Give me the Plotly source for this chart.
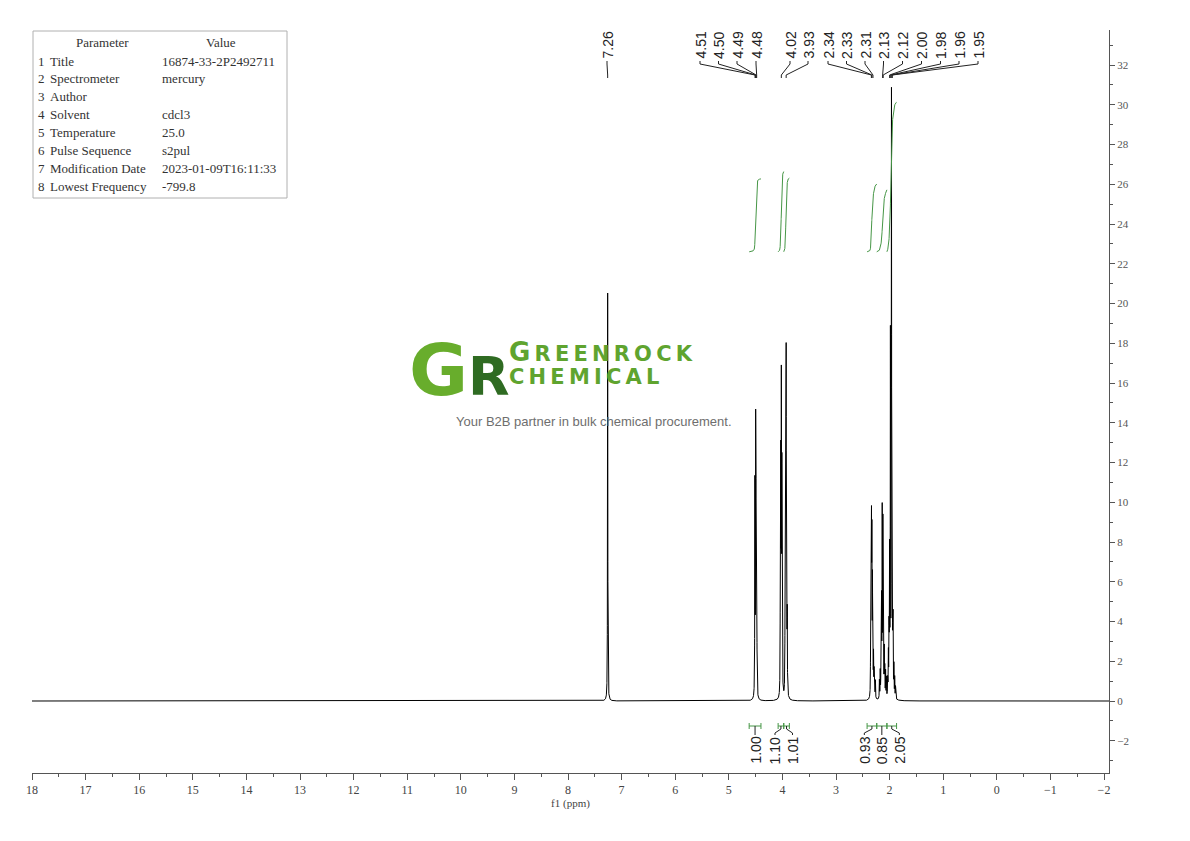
import numpy as np
import plotly.graph_objects as go

# ---------------- data ----------------
peak_ppm = [7.260,
            4.513, 4.499, 4.492, 4.478,
            4.040, 4.030, 4.020, 4.010, 4.000,
            3.950, 3.940, 3.930, 3.920, 3.910,
            2.355, 2.345, 2.338, 2.330, 2.320, 2.312, 2.300, 2.290,
            2.280, 2.265, 2.190, 2.175,
            2.160, 2.150, 2.138, 2.125, 2.115, 2.100, 2.090,
            2.075, 2.060, 2.035, 2.022,
            2.010, 2.000, 1.985, 1.965, 1.950, 1.935, 1.920, 1.905, 1.890]
peak_height = [20.6,
               10.6, 12.6, 9.7, 7.5,
               4.6, 11.2, 14.9, 10.6, 4.6,
               5.1, 12.3, 16.2, 7.5, 3.7,
               2.1, 5.5, 7.8, 7.4, 5.2, 3.5, 2.0, 1.3,
               1.2, 0.9, 0.9, 1.3,
               2.4, 4.6, 9.1, 8.4, 4.6, 2.3, 1.4,
               1.3, 1.0, 1.3, 2.0,
               4.0, 6.8, 17.8, 30.0, 9.2, 3.8, 1.5, 1.0, 0.6]
line_fwhm = 0.006

peak_labels = [7.26, 4.51, 4.50, 4.49, 4.48, 4.02, 3.93,
               2.34, 2.33, 2.31, 2.13, 2.12, 2.00, 1.98, 1.96, 1.95]

integ_from = [4.62, 4.08, 3.975, 2.42, 2.24, 2.05]
integ_to = [4.40, 3.975, 3.87, 2.24, 2.05, 1.87]
integ_value = [1.00, 1.10, 1.01, 0.93, 0.85, 2.05]

param_names = ["Title", "Spectrometer", "Author", "Solvent", "Temperature",
               "Pulse Sequence", "Modification Date", "Lowest Frequency"]
param_values = ["16874-33-2P2492711", "mercury", "", "cdcl3", "25.0",
                "s2pul", "2023-01-09T16:11:33", "-799.8"]

x_tick_vals = list(range(18, -3, -1))
y_tick_vals = list(range(-2, 33, 2))

# ---------------- geometry / layout constants ----------------
W, H = 1190, 841
L, R, T, B = 32, 81, 30, 68
PW, PH = W - L - R, H - T - B
PX_PER_PPM = 53.6
X_RANGE = [18, 18 - PW / PX_PER_PPM]
PX_PER_UNIT = 19.875
ZERO_PX = 701
Y_RANGE = [-(T + PH - ZERO_PX) / PX_PER_UNIT, (ZERO_PX - T) / PX_PER_UNIT]
# horizontal slots (page pixels) of the rotated peak-label texts
LABEL_SLOTS = [607, 700, 718.5, 737, 756, 790, 808, 828, 846.5, 865,
               883.5, 902.5, 921.5, 940.5, 959, 978]


def ppm2px(p):
    return L + (X_RANGE[0] - p) * PX_PER_PPM


def px2ppm(px):
    return X_RANGE[0] - (px - L) / PX_PER_PPM


def py2paper(py):
    return (T + PH - py) / PH


def px2paper(px):
    return (px - L) / PW


def spread(centers, gap):
    groups = []
    for c in centers:
        groups.append([1, c])
        while len(groups) > 1:
            a, b = groups[-2], groups[-1]
            a_end = a[1] + (a[0] - 1) * gap / 2
            b_start = b[1] - (b[0] - 1) * gap / 2
            if b_start - a_end < gap:
                n = a[0] + b[0]
                m = (a[1] * a[0] + b[1] * b[0]) / n
                groups[-2:] = [[n, m]]
            else:
                break
    pos = []
    for n, m in groups:
        for k in range(n):
            pos.append(m + (k - (n - 1) / 2) * gap)
    return pos


# ---------------- spectrum ----------------
x = np.linspace(X_RANGE[0], X_RANGE[1], 40200)
y = np.zeros_like(x)
hw = line_fwhm / 2
for p, h in zip(peak_ppm, peak_height):
    y += h / (1 + ((x - p) / hw) ** 2)

fig = go.Figure()
fig.add_trace(go.Scatter(x=x, y=y, mode="lines",
                         line=dict(color="black", width=1), hoverinfo="skip",
                         showlegend=False))

GREEN = "rgb(70,150,70)"
INT_BASE = 22.6
INT_SCALE = 3.67
for a, b, v in zip(integ_from, integ_to, integ_value):
    m = (x <= a) & (x >= b)
    c = np.cumsum(y[m])
    c = c / c[-1]
    fig.add_trace(go.Scatter(x=x[m], y=INT_BASE + c * v * INT_SCALE, mode="lines",
                             line=dict(color=GREEN, width=1), hoverinfo="skip",
                             showlegend=False))

shapes = []
annotations = []

# ---------------- peak labels ----------------
for p, lp in zip(peak_labels, LABEL_SLOTS):
    ppx = ppm2px(p)
    annotations.append(dict(x=px2ppm(lp), xref="x", y=py2paper(61), yref="paper",
                            text=f"{p:.2f}", textangle=-90, showarrow=False,
                            xanchor="center", yanchor="bottom",
                            font=dict(family="Liberation Sans", size=14, color="#222")))
    path = (f"M {px2ppm(lp)},{py2paper(61)} L {px2ppm(lp)},{py2paper(64)} "
            f"L {px2ppm(ppx)},{py2paper(75)} L {px2ppm(ppx)},{py2paper(78)}")
    shapes.append(dict(type="path", path=path, xref="x", yref="paper",
                       line=dict(color="#222", width=1)))

# ---------------- integration brackets ----------------
mids = [ppm2px((a + b) / 2) for a, b in zip(integ_from, integ_to)]
ilab = spread(mids, 17.5)
BR = 726
for a, b, v, mpx, lpx in zip(integ_from, integ_to, integ_value, mids, ilab):
    shapes.append(dict(type="path", xref="x", yref="paper",
                       path=(f"M {a},{py2paper(BR-3)} L {a},{py2paper(BR+3)} "
                             f"M {a},{py2paper(BR)} L {b},{py2paper(BR)} "
                             f"M {b},{py2paper(BR-3)} L {b},{py2paper(BR+3)}"),
                       line=dict(color=GREEN, width=1)))
    shapes.append(dict(type="path", xref="x", yref="paper",
                       path=(f"M {px2ppm(mpx)},{py2paper(BR)} L {px2ppm(mpx)},{py2paper(BR+3)} "
                             f"L {px2ppm(lpx)},{py2paper(BR+7)} L {px2ppm(lpx)},{py2paper(BR+9)}"),
                       line=dict(color="#222", width=1)))
    annotations.append(dict(x=px2ppm(lpx), xref="x", y=py2paper(BR + 9), yref="paper",
                            text=f"{v:.2f}", textangle=-90, showarrow=False,
                            xanchor="center", yanchor="top",
                            font=dict(family="Liberation Sans", size=14, color="#222")))

# ---------------- parameter table ----------------
shapes.append(dict(type="rect", xref="paper", yref="paper",
                   x0=px2paper(33), x1=px2paper(287), y0=py2paper(31), y1=py2paper(198),
                   line=dict(color="#b0b0b0", width=1)))
TF = dict(family="Liberation Serif", size=13, color="#333")
annotations.append(dict(x=px2paper(102), y=py2paper(43), xref="paper", yref="paper",
                        text="Parameter", showarrow=False, xanchor="center",
                        yanchor="middle", font=TF))
annotations.append(dict(x=px2paper(221), y=py2paper(43), xref="paper", yref="paper",
                        text="Value", showarrow=False, xanchor="center",
                        yanchor="middle", font=TF))
for i, (nm, val) in enumerate(zip(param_names, param_values)):
    yy = py2paper(61 + 17.9 * i)
    annotations.append(dict(x=px2paper(36), y=yy, xref="paper", yref="paper",
                            text=str(i + 1), showarrow=False, xanchor="left",
                            yanchor="middle", font=TF))
    annotations.append(dict(x=px2paper(48), y=yy, xref="paper", yref="paper",
                            text=nm, showarrow=False, xanchor="left",
                            yanchor="middle", font=TF))
    if val:
        annotations.append(dict(x=px2paper(160), y=yy, xref="paper", yref="paper",
                                text=val, showarrow=False, xanchor="left",
                                yanchor="middle", font=TF))

# ---------------- watermark logo ----------------
annotations.append(dict(x=px2paper(408), y=py2paper(370), xref="paper", yref="paper",
                        text=("<b>G</b><b><span style='font-size:54px;color:#2f6b22'>R</span></b>"),
                        showarrow=False, xanchor="left", yanchor="middle", borderpad=0,
                        font=dict(family="DejaVu Sans", size=72, color="#68ad2c")))
sp = "\u2009"
annotations.append(dict(x=px2paper(508), y=py2paper(352), xref="paper", yref="paper",
                        text=("<b><span style='font-size:26px'>G</span>" + sp +
                              sp.join("REENROCK") + "</b>"),
                        showarrow=False, xanchor="left", yanchor="middle", borderpad=0,
                        font=dict(family="DejaVu Sans", size=21, color="#5fa42f")))
annotations.append(dict(x=px2paper(508), y=py2paper(377), xref="paper", yref="paper",
                        text="<b>" + sp.join("CHEMICAL") + "</b>",
                        showarrow=False, xanchor="left", yanchor="middle", borderpad=0,
                        font=dict(family="DejaVu Sans", size=21, color="#5fa42f")))
annotations.append(dict(x=px2paper(594), y=py2paper(421), xref="paper", yref="paper",
                        text="Your B2B partner in bulk chemical procurement.",
                        showarrow=False, xanchor="center", yanchor="middle",
                        font=dict(family="Liberation Sans", size=13, color="#6e6e6e")))

AX = "#555"
fig.update_layout(
    width=W, height=H, margin=dict(l=L, r=R, t=T, b=B, pad=0),
    paper_bgcolor="white", plot_bgcolor="white", showlegend=False,
    shapes=shapes, annotations=annotations,
    xaxis=dict(range=X_RANGE, tickmode="array", tickvals=x_tick_vals,
               ticktext=[str(v).replace("-", "\u2212") for v in x_tick_vals],
               showgrid=False, zeroline=False, showline=True, linecolor=AX, linewidth=1,
               ticks="outside", ticklen=6, tickcolor=AX,
               minor=dict(dtick=0.5, tick0=0, ticks="outside", ticklen=3, tickcolor=AX),
               tickfont=dict(family="Liberation Serif", size=12, color="#444"),
               title=dict(text="f1 (ppm)", standoff=1,
                          font=dict(family="Liberation Serif", size=11, color="#444"))),
    yaxis=dict(range=Y_RANGE, side="right", tickmode="array", tickvals=y_tick_vals,
               ticktext=[str(v).replace("-", "\u2212") for v in y_tick_vals],
               showgrid=False, zeroline=False, showline=True, linecolor=AX, linewidth=1,
               ticks="outside", ticklen=5, tickcolor=AX,
               minor=dict(dtick=1, tick0=0, ticks="outside", ticklen=3, tickcolor=AX),
               tickfont=dict(family="Liberation Serif", size=11, color="#555")),
)

fig.write_html("out.html", config={"displayModeBar": False},
               post_script="document.body.style.margin='0';")
